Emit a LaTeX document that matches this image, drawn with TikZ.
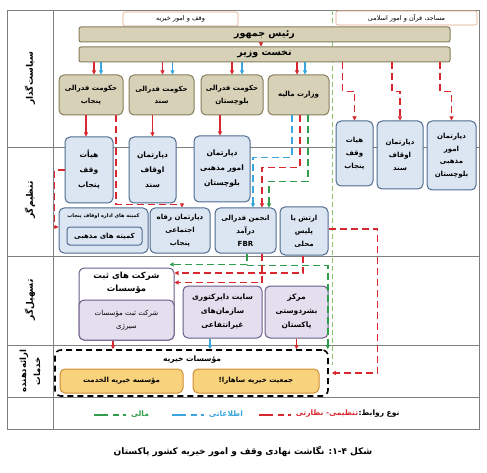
\documentclass[tikz,border=0pt]{standalone}
\usepackage{fontspec}
\usetikzlibrary{arrows.meta}
\newfontfamily\arabicfont[Script=Arabic]{DejaVu Sans}
\TeXXeTstate=1
\newcommand{\fa}[1]{\beginR #1\endR}

\definecolor{Reg}{HTML}{D7282F}
\definecolor{Inf}{HTML}{3AA6DD}
\definecolor{Fin}{HTML}{2F9D4B}
\definecolor{Div}{HTML}{8DC46B}
\definecolor{Khaki}{HTML}{D7D1B7}
\definecolor{KhakiLine}{HTML}{857D5C}
\definecolor{Pale}{HTML}{DCE6F2}
\definecolor{PaleLine}{HTML}{4E6B8F}
\definecolor{Lav}{HTML}{E4DFEE}
\definecolor{LavLine}{HTML}{6A5B88}
\definecolor{Amber}{HTML}{F9D27E}
\definecolor{AmberLine}{HTML}{CF8C32}
\definecolor{TabLine}{HTML}{E3A686}
\definecolor{Frame}{HTML}{7F7F7F}

\begin{document}
\begin{tikzpicture}[x=1pt, y=-1pt,
  txt/.style={align=center, font=\arabicfont\bfseries\fontsize{7}{13}\selectfont},
  blk/.style={txt, draw, rounded corners=5pt, line width=1pt, inner sep=1pt},
  kbox/.style={blk, fill=Khaki, draw=KhakiLine},
  bbox/.style={blk, fill=Pale, draw=PaleLine},
  pbox/.style={blk, fill=Lav, draw=LavLine},
  obox/.style={blk, fill=Amber, draw=AmberLine},
  bar/.style={kbox, rounded corners=2pt, font=\arabicfont\bfseries\fontsize{9.5}{10}\selectfont},
  tab/.style={draw=TabLine, fill=white, rounded corners=2pt, line width=0.6pt, inner sep=1pt, font=\arabicfont\fontsize{6.5}{8}\selectfont},
  lbl/.style={rotate=90, align=center, font=\arabicfont\bfseries\fontsize{9}{14}\selectfont},
  frame/.style={draw=Frame, line width=0.6pt},
  div/.style={draw=Div, line width=1pt, dash pattern=on 5pt off 3pt},
  reg/.style={draw=Reg, line width=1.4pt, dash pattern=on 7pt off 4pt},
  inf/.style={draw=Inf, line width=1.4pt, dash pattern=on 7pt off 4pt},
  fin/.style={draw=Fin, line width=1.4pt, dash pattern=on 7pt off 4pt},
  rs/.style={draw=Reg, line width=1.4pt},
  bs/.style={draw=Inf, line width=1.4pt},
  ar/.style={-{Triangle[length=4pt,width=4pt]}},
  leg/.style={line width=2.5pt, dash pattern=on 3pt off 4pt on 6pt off 5pt on 14pt off 20pt}]

\useasboundingbox (0,0) rectangle (487,473);

%%%%%%%%%% Cadre %%%%%%%%%%
 \draw[frame] (7,10) rectangle (479,429);
 \draw[frame] (53,10) -- (53,429);
 \draw[frame] (7,147) -- (479,147);
 \draw[frame] (7,256) -- (479,256);
 \draw[frame] (7,345) -- (479,345);
 \draw[frame] (7,397) -- (479,397);
 \draw[div] (332,10) -- (332,365);

 % Niveaux
 \node[lbl] (lpol) at (30,78) {\fa{سیاست‌گذار}};
 \node[lbl] (lreg) at (30,200) {\fa{تنظیم‌گر}};
 \node[lbl] (lfac) at (30,300) {\fa{تسهیل‌گر}};
 \node[lbl, font=\arabicfont\bfseries\fontsize{8.5}{14}\selectfont] (lsrv) at (30,371) {\fa{ارائه‌دهنده}\\\fa{خدمات}};

%%%%%%%%%% En-tetes %%%%%%%%%%
 \node[tab, minimum width=115pt, minimum height=14pt] (tabw) at (180.5,19) {\fa{وقف و امور خیریه}};
 \node[tab, minimum width=141pt, minimum height=14pt] (tabm) at (406.5,18) {\fa{مساجد، قرآن و امور اسلامی}};
 \node[bar, minimum width=371pt, minimum height=15pt] (pres) at (264.5,34.5) {\fa{رئیس جمهور}};
 \node[bar, minimum width=371pt, minimum height=15pt] (pm) at (264.5,54.5) {\fa{نخست وزیر}};

%%%%%%%%%% Politique %%%%%%%%%%
 \node[kbox, minimum width=64pt, minimum height=40pt, font=\arabicfont\bfseries\fontsize{7}{12.5}\selectfont] (fpun) at (91,95) {\fa{حکومت فدرالی}\\\fa{پنجاب}};
 \node[kbox, minimum width=65pt, minimum height=40pt, font=\arabicfont\bfseries\fontsize{7}{12.5}\selectfont] (fsin) at (161.5,95) {\fa{حکومت فدرالی}\\\fa{سند}};
 \node[kbox, minimum width=62pt, minimum height=40pt, font=\arabicfont\bfseries\fontsize{7}{12.5}\selectfont] (fbal) at (232,95) {\fa{حکومت فدرالی}\\\fa{بلوچستان}};
 \node[kbox, minimum width=61pt, minimum height=40pt] (mal) at (298.5,95) {\fa{وزارت مالیه}};

%%%%%%%%%% Regulation %%%%%%%%%%
 \node[bbox, minimum width=48pt, minimum height=66pt, font=\arabicfont\bfseries\fontsize{7.5}{15}\selectfont] (hpun) at (89,170) {\fa{هیأت}\\\fa{وقف}\\\fa{پنجاب}};
 \node[bbox, minimum width=47pt, minimum height=66pt, font=\arabicfont\bfseries\fontsize{7.5}{15}\selectfont] (dsin) at (152.5,170) {\fa{دپارتمان}\\\fa{اوقاف}\\\fa{سند}};
 \node[bbox, minimum width=56pt, minimum height=66pt, font=\arabicfont\bfseries\fontsize{7.5}{15}\selectfont] (dbal) at (222,169) {\fa{دپارتمان}\\\fa{امور مذهبی}\\\fa{بلوچستان}};

 \node[bbox, minimum width=37pt, minimum height=65pt] (rhpun) at (354.5,153.5) {\fa{هیات}\\\fa{وقف}\\\fa{پنجاب}};
 \node[bbox, minimum width=46pt, minimum height=68pt] (rdsin) at (400,155) {\fa{دپارتمان}\\\fa{اوقاف}\\\fa{سند}};
 \node[bbox, minimum width=49pt, minimum height=69pt, font=\arabicfont\bfseries\fontsize{7}{12.5}\selectfont] (rdbal) at (451.5,155.5) {\fa{دپارتمان}\\\fa{امور}\\\fa{مذهبی}\\\fa{بلوچستان}};

 \node[bbox, minimum width=89pt, minimum height=45pt] (kom) at (103.5,230.5) {};
 \node[txt, font=\arabicfont\bfseries\fontsize{5}{6}\selectfont] (komt) at (103.5,216) {\fa{کمیته های اداره اوقاف پنجاب}};
 \node[bbox, minimum width=75pt, minimum height=18pt, rounded corners=3pt] (komin) at (104.5,236) {\fa{کمیته های مذهبی}};
 \node[bbox, minimum width=60pt, minimum height=45pt, font=\arabicfont\bfseries\fontsize{7}{13}\selectfont] (rifah) at (180,230.5) {\fa{دپارتمان رفاه}\\\fa{اجتماعی}\\\fa{پنجاب}};
 \node[bbox, minimum width=61pt, minimum height=45pt, font=\arabicfont\bfseries\fontsize{7}{13}\selectfont] (fbr) at (245.5,230.5) {\fa{انجمن فدرالی}\\\fa{درآمد}\\\textbf{FBR}};
 \node[bbox, minimum width=48pt, minimum height=48pt, font=\arabicfont\bfseries\fontsize{7}{13}\selectfont] (army) at (304,231) {\fa{ارتش یا}\\\fa{پلیس}\\\fa{محلی}};

%%%%%%%%%% Facilitation %%%%%%%%%%
 \node[pbox, fill=white, minimum width=95pt, minimum height=72pt] (sabt) at (126.5,304) {};
 \node[pbox, minimum width=95pt, minimum height=40pt, font=\arabicfont\fontsize{7}{13}\selectfont] (sabtin) at (126.5,320) {\fa{شرکت ثبت مؤسسات}\\\fa{سیرژی}};
 \node[txt, font=\arabicfont\bfseries\fontsize{8.5}{13}\selectfont] (sabtt) at (126.5,283) {\fa{شرکت های ثبت}\\\fa{مؤسسات}};
 \node[pbox, minimum width=79pt, minimum height=52pt, font=\arabicfont\bfseries\fontsize{7.5}{14}\selectfont] (site) at (222.5,312) {\fa{سایت دایرکتوری}\\\fa{سازمان‌های}\\\fa{غیرانتفاعی}};
 \node[pbox, minimum width=63pt, minimum height=52pt, font=\arabicfont\bfseries\fontsize{7.5}{14}\selectfont] (markaz) at (296.5,312) {\fa{مرکز}\\\fa{بشردوستی}\\\fa{پاکستان}};

%%%%%%%%%% Services %%%%%%%%%%
 \node[draw, line width=1.6pt, dash pattern=on 6pt off 4pt, rounded corners=6pt, minimum width=273pt, minimum height=46pt] (char) at (191.5,373) {};
 \node[txt, font=\arabicfont\bfseries\fontsize{7.5}{8}\selectfont] (chart) at (192,360) {\fa{مؤسسات خیریه}};
 \node[obox, minimum width=123pt, minimum height=24pt] (khed) at (121.5,381) {\fa{مؤسسه خیریه الخدمت}};
 \node[obox, minimum width=126pt, minimum height=24pt] (sahara) at (256,381) {\fa{جمعیت خیریه ساهارا!}};

%%%%%%%%%% Relations %%%%%%%%%%
 \draw[rs, ar] ([xshift=-3.5pt]pres.south) -- ([xshift=-3.5pt]pm.north);

 \draw[rs, ar] ([xshift=3pt]fpun.north |- pm.south) -- ([xshift=3pt]fpun.north);
 \draw[bs, ar] ([xshift=10pt]fpun.north |- pm.south) -- ([xshift=10pt]fpun.north);
 \draw[rs, ar] ([xshift=1pt]fsin.north |- pm.south) -- ([xshift=1pt]fsin.north);
 \draw[bs, ar] ([xshift=11pt]fsin.north |- pm.south) -- ([xshift=11pt]fsin.north);
 \draw[rs, ar] (fbal.north |- pm.south) -- (fbal.north);
 \draw[bs, ar] ([xshift=10pt]fbal.north |- pm.south) -- ([xshift=10pt]fbal.north);
 \draw[rs, ar] ([xshift=-1.5pt]mal.north |- pm.south) -- ([xshift=-1.5pt]mal.north);
 \draw[bs, ar] ([xshift=6.5pt]mal.north |- pm.south) -- ([xshift=6.5pt]mal.north);

 \draw[rs, ar] ([xshift=-3pt]hpun.north |- fpun.south) -- ([xshift=-3pt]hpun.north);
 \draw[rs, ar] (dsin.north |- fsin.south) -- (dsin.north);
 \draw[rs, ar] ([xshift=-2pt]dbal.north |- fbal.south) -- ([xshift=-2pt]dbal.north);

 \draw[reg, ar] ([xshift=25pt]fpun.south) -- ++(0,89) -| ([xshift=2pt]rifah.north);
 \draw[reg, ar] (hpun.west) -- ++(-10,0) |- ([yshift=3.5pt]kom.west);

 \draw[reg, ar] ([xshift=-12pt]rhpun.north |- pm.south) -- ++(0,29) -| (rhpun.north);
 \draw[reg, ar] ([xshift=-8pt]rdsin.north |- pm.south) -- ++(0,29) -| (rdsin.north);
 \draw[reg, ar] ([xshift=-11.5pt]rdbal.north |- pm.south) -- ++(0,29) -| (rdbal.north);

 % Vezarat maliye -> FBR
 \draw[inf, ar] ([xshift=-6.5pt]mal.south) -- ++(0,42) -| ([xshift=7.5pt]fbr.north);
 \draw[reg, ar] ([xshift=1.5pt]mal.south) -- ++(0,52) -| ([xshift=16.5pt]fbr.north);
 \draw[fin, ar] ([xshift=9.5pt]mal.south) -- ++(0,66) -| ([xshift=23.5pt]fbr.north);

 % FBR, artesh -> tashil
 \draw[fin, ar] ([xshift=1.5pt]fbr.south) |- ([xshift=-5pt,yshift=3pt]sabt.north east);
 \draw[fin, ar] ([xshift=1.5pt]fbr.south) ++(0,12) -| ([xshift=-1pt]char.north east);
 \draw[reg, ar] ([xshift=16.5pt]fbr.south) |- ([yshift=21.5pt]sabt.east);
 \draw[reg, ar] ([xshift=-1pt]army.south) |- ([yshift=31pt]sabt.east);
 \draw[reg, ar] ([yshift=2pt]army.east) -- ++(49,0) |- ([xshift=3pt]char.east);

 % Tashil -> khadamat
 \draw[rs, ar] ([xshift=-13.5pt]sabt.south) -- ([xshift=-13.5pt]sabt.south |- char.north);
 \draw[bs, ar] ([xshift=-12.5pt]site.south) -- ([xshift=-12.5pt]site.south |- char.north);
 \draw[rs, ar] (markaz.south) -- (markaz.south |- char.north);

%%%%%%%%%% Legende %%%%%%%%%%
 \node[txt, font=\arabicfont\bfseries\fontsize{7.5}{9}\selectfont] (lgk) at (379,414) {\fa{نوع روابط:}};
 \node[txt, text=Reg, font=\arabicfont\bfseries\fontsize{7.5}{9}\selectfont] (lgr) at (327,414) {\fa{تنظیمی- نظارتی}};
 \node[txt, text=Inf, font=\arabicfont\bfseries\fontsize{7.5}{9}\selectfont] (lgb) at (226,414) {\fa{اطلاعاتی}};
 \node[txt, text=Fin, font=\arabicfont\bfseries\fontsize{7.5}{9}\selectfont] (lgg) at (140,414) {\fa{مالی}};
 \draw[leg, Reg] ([xshift=-1pt,yshift=-1pt]lgr.west) -- ++(-32,0);
 \draw[leg, Inf] ([xshift=-2pt,yshift=-1pt]lgb.west) -- ++(-32,0);
 \draw[leg, Fin] ([xshift=-2pt,yshift=-1pt]lgg.west) -- ++(-35,0);

 \node[txt, font=\arabicfont\bfseries\fontsize{9}{10}\selectfont] (capt) at (243,452) {\fa{شکل \beginL۱-۴\endL{}: نگاشت نهادی وقف و امور خیریه کشور پاکستان}};

\end{tikzpicture}
\end{document}
